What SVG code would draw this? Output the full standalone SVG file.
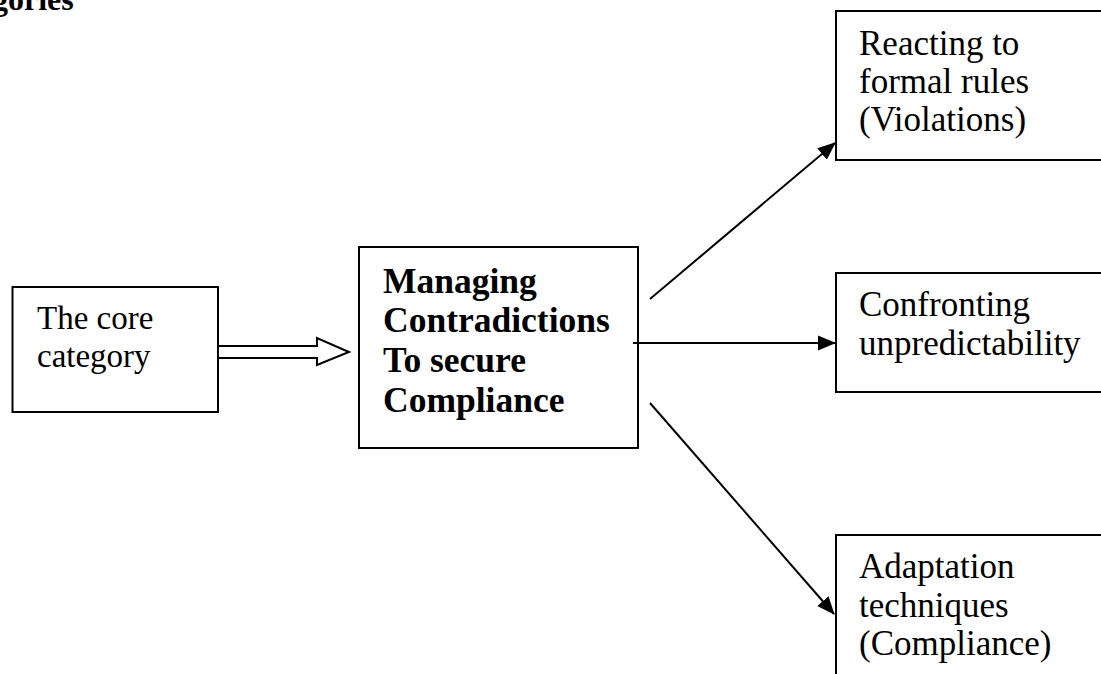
<svg xmlns="http://www.w3.org/2000/svg" width="1101" height="674" viewBox="0 0 1101 674">
<style>
.box{fill:#fff;stroke:#000;stroke-width:2}
.t{font-family:"Liberation Serif","Times New Roman",serif;fill:#000}
.reg{font-size:33px}
.rt{font-size:35px}
.bold{font-size:35.5px;font-weight:bold}
.conn{stroke:#000;stroke-width:2;fill:none}
</style>
<defs>
<marker id="arr" markerUnits="userSpaceOnUse" markerWidth="18" markerHeight="18" viewBox="0 0 18 18" refX="17" refY="9" orient="auto">
<path d="M0,1.5 L18,9 L0,16.5 z" fill="#000"/>
</marker>
</defs>
<rect width="1101" height="674" fill="#fff"/>
<text class="t bold" x="-8" y="10" style="font-size:32px">gories</text>
<g id="core">
<rect class="box" x="12.5" y="287" width="205.5" height="125"/>
<text class="t reg" x="37" y="329">The core</text>
<text class="t reg" x="37" y="367">category</text>
</g>
<g id="managing">
<rect class="box" x="359" y="247" width="279" height="201"/>
<text class="t bold" x="383" y="293">Managing</text>
<text class="t bold" x="383" y="332">Contradictions</text>
<text class="t bold" x="383" y="372">To secure</text>
<text class="t bold" x="383" y="412">Compliance</text>
</g>
<g id="reacting">
<rect class="box" x="836" y="11" width="280" height="149"/>
<text class="t rt" x="859" y="55">Reacting to</text>
<text class="t rt" x="859" y="93">formal rules</text>
<text class="t rt" x="859" y="131">(Violations)</text>
</g>
<g id="confronting">
<rect class="box" x="836" y="273" width="280" height="119"/>
<text class="t rt" x="859" y="316">Confronting</text>
<text class="t rt" x="859" y="355">unpredictability</text>
</g>
<g id="adaptation">
<rect class="box" x="836" y="535" width="280" height="160"/>
<text class="t rt" x="859" y="578">Adaptation</text>
<text class="t rt" x="859" y="617">techniques</text>
<text class="t rt" x="859" y="655">(Compliance)</text>
</g>
<g id="connectors">
<path class="conn" d="M218,346 L317,346 L317,338 L349,352 L317,365 L317,358 L218,358" fill="#fff"/>
<line class="conn" x1="650" y1="299" x2="835" y2="143" marker-end="url(#arr)"/>
<line class="conn" x1="633" y1="343" x2="835" y2="343" marker-end="url(#arr)"/>
<line class="conn" x1="650" y1="403" x2="834" y2="614" marker-end="url(#arr)"/>
</g>
</svg>
